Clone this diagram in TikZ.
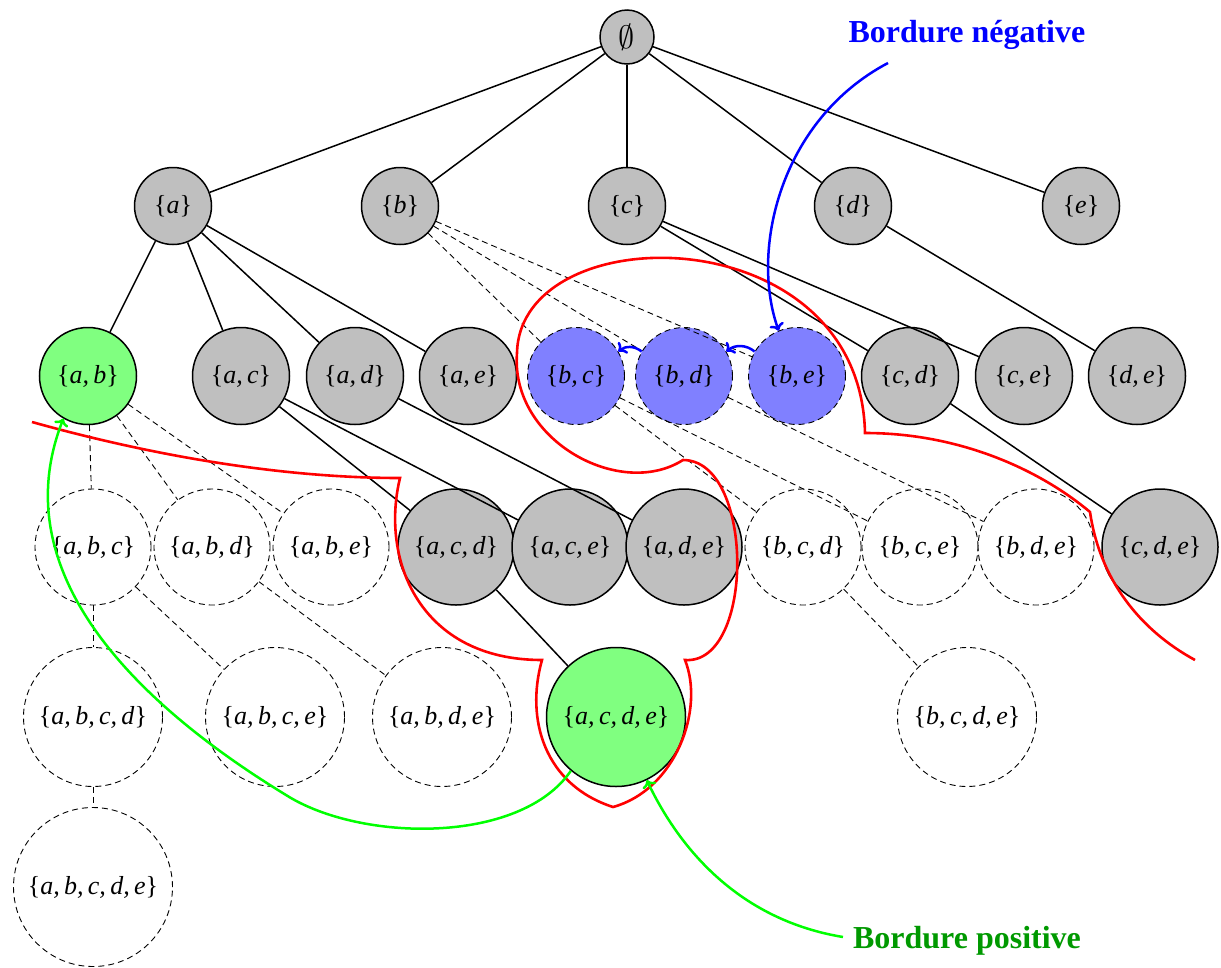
\documentclass[tikz,border=0pt]{standalone}
\usepackage{fontspec}
\usepackage{graphicx}
\setmainfont{Liberation Serif}
\usetikzlibrary{arrows.meta}
\definecolor{labgreen}{RGB}{0,153,0}
\ExplSyntaxOn
\NewDocumentCommand\setof{m}{
  \clist_set:Nn \l_tmpa_clist {#1}
  \{\textit{\clist_use:Nn \l_tmpa_clist {,\,}}\}
}
\ExplSyntaxOff
\tikzset{
  nd/.style={circle, draw, line width=1.5pt, inner sep=0pt, font=\fontsize{26}{31}\selectfont},
  dsh/.style={dash pattern=on 6pt off 4pt, line width=0.9pt},
  grn/.style={nd, fill=gray!50},
  posn/.style={nd, fill=green!50},
  negn/.style={nd, fill=blue!50, dsh},
  infn/.style={nd, dsh},
  lvA/.style={minimum size=77pt},
  lvB/.style={minimum size=97pt},
  lvC/.style={minimum size=116pt},
  lvD/.style={minimum size=139pt},
  lvE/.style={minimum size=159pt},
  edge/.style={line width=1.5pt},
  dedge/.style={dsh},
  bord/.style={red, line width=2.6pt},
  garrow/.style={green, line width=2.5pt, ->},
  barrow/.style={blue, line width=2.5pt, ->},
  lab/.style={font=\fontsize{32}{38}\selectfont\bfseries}
}
\begin{document}
\begin{tikzpicture}[x=1pt, y=-1pt]
\useasboundingbox (0,0) rectangle (1221,967);
% level 0
\node[grn, minimum size=54pt] (n0) at (627,37) {\scalebox{1.3}{$\emptyset$}};
% level 1
\node[grn, lvA] (a) at (173,206) {\setof{a}};
\node[grn, lvA] (b) at (400,206) {\setof{b}};
\node[grn, lvA] (c) at (627,206) {\setof{c}};
\node[grn, lvA] (d) at (853,206) {\setof{d}};
\node[grn, lvA] (e) at (1081,206) {\setof{e}};
% level 2
\node[posn, lvB] (ab) at (88,376) {\setof{a,b}};
\node[grn, lvB] (ac) at (241,376) {\setof{a,c}};
\node[grn, lvB] (ad) at (355,376) {\setof{a,d}};
\node[grn, lvB] (ae) at (468,376) {\setof{a,e}};
\node[negn, lvB] (bc) at (576,376) {\setof{b,c}};
\node[negn, lvB] (bd) at (684,376) {\setof{b,d}};
\node[negn, lvB] (be) at (797,376) {\setof{b,e}};
\node[grn, lvB] (cd) at (910,376) {\setof{c,d}};
\node[grn, lvB] (ce) at (1024,376) {\setof{c,e}};
\node[grn, lvB] (de) at (1137,376) {\setof{d,e}};
% level 3
\node[infn, lvC] (abc) at (93,547) {\setof{a,b,c}};
\node[infn, lvC] (abd) at (212,547) {\setof{a,b,d}};
\node[infn, lvC] (abe) at (331,547) {\setof{a,b,e}};
\node[grn, lvC] (acd) at (456,547) {\setof{a,c,d}};
\node[grn, lvC] (ace) at (570,547) {\setof{a,c,e}};
\node[grn, lvC] (ade) at (684,547) {\setof{a,d,e}};
\node[infn, lvC] (bcd) at (803,547) {\setof{b,c,d}};
\node[infn, lvC] (bce) at (920,547) {\setof{b,c,e}};
\node[infn, lvC] (bde) at (1036,547) {\setof{b,d,e}};
\node[grn, lvC] (cde) at (1160,547) {\setof{c,d,e}};
% level 4
\node[infn, lvD] (abcd) at (93,717) {\setof{a,b,c,d}};
\node[infn, lvD] (abce) at (275,717) {\setof{a,b,c,e}};
\node[infn, lvD] (abde) at (442,717) {\setof{a,b,d,e}};
\node[posn, lvD] (acde) at (616,717) {\setof{a,c,d,e}};
\node[infn, lvD] (bcde) at (967,717) {\setof{b,c,d,e}};
% level 5
\node[infn, lvE] (abcde) at (93,887) {\setof{a,b,c,d,e}};
% labels
\node[lab, text=blue] (lneg) at (967,35) {Bordure négative};
\node[lab, text=labgreen] (lpos) at (967,941) {Bordure positive};
% solid edges
\foreach \u/\v in {n0/a, n0/b, n0/c, n0/d, n0/e, a/ab, a/ac, a/ad, a/ae, c/cd, c/ce, d/de,
  ac/acd, ac/ace, ad/ade, cd/cde, acd/acde}
  \draw[edge] (\u) -- (\v);
% dashed edges
\foreach \u/\v in {b/bc, b/bd, b/be, ab/abc, ab/abd, ab/abe, bc/bcd, bc/bce, bd/bde,
  abc/abcd, abc/abce, abd/abde, abcd/abcde, bcd/bcde}
  \draw[dedge] (\u) -- (\v);
% border curve
\draw[bord] (32,422) .. controls (150,455) and (280,478) .. (400,478)
  .. controls (380,560) and (420,660) .. (542,660)
  .. controls (525,720) and (545,785) .. (613,807)
  .. controls (675,790) and (705,710) .. (685,660)
  .. controls (755,665) and (755,460) .. (683,460)
  .. controls (620,500) and (510,440) .. (517,353)
  .. controls (520,215) and (860,215) .. (865,433)
  .. controls (960,433) and (1040,470) .. (1090,512)
  .. controls (1100,580) and (1140,630) .. (1195,660);
% arrows
\coordinate (bstart) at (888,63);
\coordinate (gstart) at (843,937);
\draw[barrow] (bstart) .. controls (780,120) and (750,250) .. (be.112);
\draw[barrow] (bd.150) to[bend right=40] (bc.30);
\draw[barrow] (be.150) to[bend right=40] (bd.30);
\draw[garrow] (acde.-130) .. controls (520,845) and (360,842) .. (286,795)
  .. controls (150,712) and (0,580) .. (ab.-120);
\draw[garrow] (gstart) .. controls (740,920) and (680,850) .. (acde.-64);
\end{tikzpicture}
\end{document}
